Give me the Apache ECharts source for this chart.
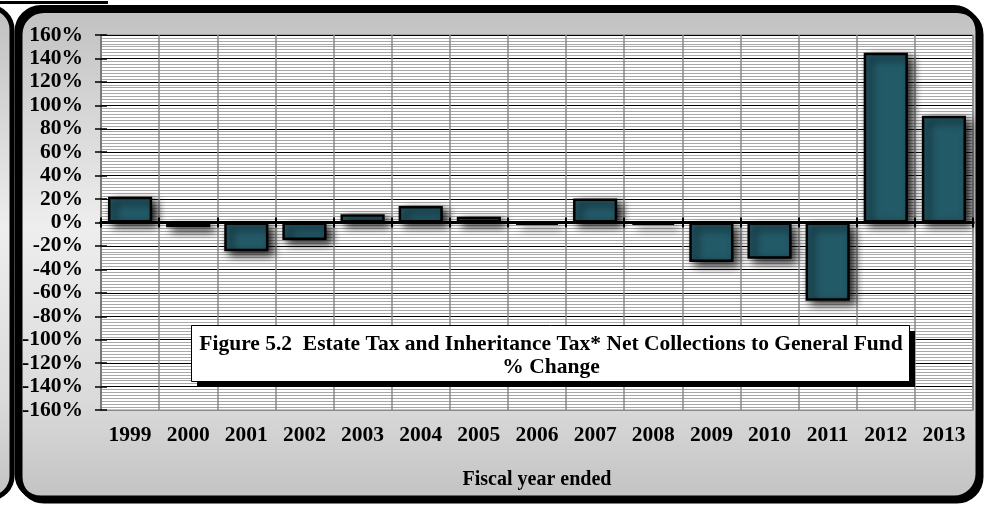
<!DOCTYPE html>
<html>
<head>
<meta charset="utf-8">
<title>Estate Tax and Inheritance Tax Net Collections % Change</title>
<script src="https://cdn.jsdelivr.net/npm/echarts@6/dist/echarts.min.js"></script>
<style>
  html, body { margin: 0; padding: 0; background: #ffffff; }
  #chart { width: 985px; height: 505px; }
</style>
</head>
<body>
<div id="chart"></div>
<script>
// Fiscal years shown on the category axis
const years = ['1999', '2000', '2001', '2002', '2003', '2004', '2005', '2006',
               '2007', '2008', '2009', '2010', '2011', '2012', '2013'];

// Year-over-year % change in net collections to the General Fund
const pctChange = [22, -4, -24.5, -15, 7, 14, 5, -2, 20.5, -2, -33.8, -31, -66.7, 144.8, 91.2];

// Value axis range and step (percent)
const yMin = -160;
const yMax = 160;
const yStep = 20;

const titleLine1 = 'Figure 5.2  Estate Tax and Inheritance Tax* Net Collections to General Fund';
const titleLine2 = '% Change';
const xAxisTitle = 'Fiscal year ended';

const serif = '"Liberation Serif", "Times New Roman", serif';
const labelSize = 21.5;

const chart = echarts.init(document.getElementById('chart'), null, { renderer: 'canvas' });

function panelFill() {
  return new echarts.graphic.LinearGradient(0, 0, 0, 1, [
    { offset: 0, color: '#c0c0c0' },
    { offset: 0.45, color: '#eeeeee' },
    { offset: 0.8, color: '#dadada' },
    { offset: 1, color: '#c2c2c2' }
  ]);
}

const catAxisBase = {
  type: 'category',
  data: years,
  boundaryGap: true
};

const option = {
  animation: false,
  backgroundColor: '#ffffff',
  grid: {
    left: 101,
    right: 12,
    top: 35,
    bottom: 95,
    show: true,
    backgroundColor: '#ffffff',
    borderColor: '#888888',
    borderWidth: 1
  },
  xAxis: [
    Object.assign({}, catAxisBase, {
      position: 'bottom',
      axisLine: { onZero: false, lineStyle: { color: '#888888', width: 1 } },
      axisTick: { show: false },
      axisLabel: {
        color: '#000000',
        fontFamily: serif,
        fontWeight: 'bold',
        fontSize: labelSize,
        margin: 14
      },
      splitLine: { show: true, interval: 0, lineStyle: { color: '#8a8a8a', width: 1.5 } },
      name: xAxisTitle,
      nameLocation: 'middle',
      nameGap: 60,
      nameTextStyle: {
        color: '#000000',
        fontFamily: serif,
        fontWeight: 'bold',
        fontSize: 20
      }
    }),
    // zero line with tick marks pointing down
    Object.assign({}, catAxisBase, {
      position: 'bottom',
      axisLine: { onZero: true, lineStyle: { color: '#000000', width: 3 } },
      axisTick: { show: true, length: 5, interval: 0, lineStyle: { color: '#000000', width: 2 } },
      axisLabel: { show: false },
      splitLine: { show: false }
    }),
    // zero line tick marks pointing up
    Object.assign({}, catAxisBase, {
      position: 'top',
      axisLine: { onZero: true, lineStyle: { color: '#000000', width: 3 } },
      axisTick: { show: true, length: 5, interval: 0, lineStyle: { color: '#000000', width: 2 } },
      axisLabel: { show: false },
      splitLine: { show: false }
    })
  ],
  yAxis: [
    {
      type: 'value',
      min: yMin,
      max: yMax,
      interval: yStep,
      position: 'left',
      axisLine: { show: true, onZero: false, lineStyle: { color: '#7a7a7a', width: 2 } },
      axisTick: { show: true, length: 6, lineStyle: { color: '#000000', width: 1.5 } },
      axisLabel: {
        formatter: '{value}%',
        color: '#000000',
        fontFamily: serif,
        fontWeight: 'bold',
        fontSize: labelSize,
        margin: 18
      },
      splitLine: { show: true, lineStyle: { color: '#000000', width: 1 } },
      minorTick: { show: false, splitNumber: 8 },
      minorSplitLine: { show: true, lineStyle: { color: '#a8a8a8', width: 1.2 } }
    },
    {
      type: 'value',
      min: yMin,
      max: yMax,
      interval: yStep,
      position: 'left',
      axisLine: { show: false, onZero: false },
      axisTick: { show: true, inside: true, length: 6, lineStyle: { color: '#000000', width: 1.5 } },
      axisLabel: { show: false },
      splitLine: { show: false }
    }
  ],
  series: [
    {
      type: 'bar',
      xAxisIndex: 0,
      yAxisIndex: 0,
      data: pctChange,
      barCategoryGap: '24%',
      z: 5,
      itemStyle: {
        color: '#235a68',
        borderColor: '#000000',
        borderWidth: 2.5,
        shadowColor: 'rgba(0,0,0,0.9)',
        shadowBlur: 9,
        shadowOffsetX: 5,
        shadowOffsetY: 4
      }
    }
  ],
  graphic: [
    // frame panels
    {
      type: 'rect', z: -10, silent: true,
      shape: { x: -40, y: 7.5, width: 52, height: 490.5, r: 22 },
      style: { fill: panelFill(), stroke: '#000000', lineWidth: 5 }
    },
    {
      type: 'rect', z: -10, silent: true,
      shape: { x: 17, y: 7.5, width: 961, height: 490.5, r: 24 },
      style: {
        fill: panelFill(), stroke: '#000000', lineWidth: 5,
        shadowColor: '#000000', shadowBlur: 0, shadowOffsetX: 3, shadowOffsetY: 3
      }
    },
    // rule at the top edge
    {
      type: 'rect', z: -5, silent: true,
      shape: { x: 0, y: 1, width: 108, height: 3 },
      style: { fill: '#000000' }
    },
    // figure caption box
    {
      type: 'rect', z: 100, silent: true,
      shape: { x: 197, y: 331, width: 718, height: 56 },
      style: { fill: '#000000' }
    },
    {
      type: 'rect', z: 101, silent: true,
      shape: { x: 191.5, y: 325.5, width: 718, height: 56 },
      style: { fill: '#ffffff', stroke: '#000000', lineWidth: 1 }
    },
    {
      type: 'text', z: 102, silent: true,
      x: 551, y: 344,
      style: {
        text: titleLine1,
        font: 'bold 21.5px ' + serif,
        fill: '#000000',
        align: 'center', verticalAlign: 'middle',
        textAlign: 'center', textVerticalAlign: 'middle'
      }
    },
    {
      type: 'text', z: 102, silent: true,
      x: 551, y: 367,
      style: {
        text: titleLine2,
        font: 'bold 21.5px ' + serif,
        fill: '#000000',
        align: 'center', verticalAlign: 'middle',
        textAlign: 'center', textVerticalAlign: 'middle'
      }
    }
  ]
};

chart.setOption(option);
</script>
</body>
</html>
